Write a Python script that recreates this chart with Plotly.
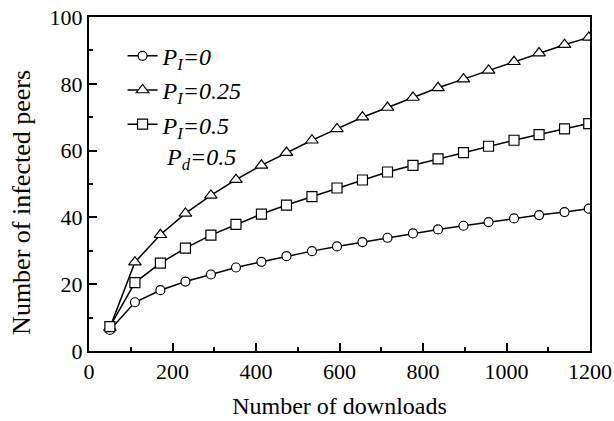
import plotly.graph_objects as go

downloads = [50, 110, 171, 231, 292, 352, 413, 473, 534, 594, 655, 715, 776, 836, 897, 957, 1018, 1078, 1139, 1197]
p0 = [6.3, 14.6, 18.2, 20.8, 22.9, 25.0, 26.7, 28.4, 29.9, 31.3, 32.6, 33.9, 35.2, 36.4, 37.5, 38.6, 39.7, 40.7, 41.6, 42.6]
p025 = [7.0, 26.6, 34.8, 41.2, 46.6, 51.3, 55.6, 59.4, 63.1, 66.5, 70.0, 72.9, 75.9, 78.8, 81.4, 84.0, 86.6, 89.2, 91.7, 93.9]
p05 = [7.3, 20.5, 26.3, 30.8, 34.7, 37.9, 41.0, 43.7, 46.2, 48.8, 51.2, 53.6, 55.6, 57.5, 59.4, 61.3, 63.1, 64.8, 66.5, 68.1]

series_names = ["<i>P<sub>I</sub>=0</i>", "<i>P<sub>I</sub>=0.25</i>", "<i>P<sub>I</sub>=0.5</i>"]
series_values = [p0, p025, p05]
symbols = ["circle", "triangle-up", "square"]
sizes = [9, 11, 10]

fig = go.Figure()
for name, vals, sym, sz in zip(series_names, series_values, symbols, sizes):
    fig.add_trace(go.Scatter(
        x=downloads, y=vals, name=name, mode="lines+markers",
        line=dict(color="black", width=1.5),
        marker=dict(symbol=sym, size=sz, color="white",
                    line=dict(color="black", width=1.2)),
        legendgroup=name,
    ))

serif = "Liberation Serif, Times New Roman, serif"
fig.update_layout(
    width=614, height=421,
    margin=dict(l=89, r=24, t=17, b=70),
    paper_bgcolor="white", plot_bgcolor="white",
    font=dict(family=serif, color="black", size=21),
    showlegend=True,
    legend=dict(x=0.067, y=0.95, xanchor="left", yanchor="top",
                bgcolor="rgba(0,0,0,0)", font=dict(size=24, family=serif),
                tracegroupgap=0, itemwidth=30),
    xaxis=dict(range=[0, 1200], tickvals=[0, 200, 400, 600, 800, 1000, 1200],
               ticks="inside", ticklen=8, tickwidth=1.5, tickcolor="black",
               minor=dict(dtick=100, ticks="inside", ticklen=4, tickwidth=1.5, tickcolor="black"),
               showline=True, linecolor="black", linewidth=2, mirror=True,
               showgrid=False, zeroline=False, automargin=False, ticklabeloverflow="allow",
               title=dict(text="Number of downloads", font=dict(size=24), standoff=14),
               tickfont=dict(size=22)),
    yaxis=dict(range=[0, 100], tickvals=[0, 20, 40, 60, 80, 100],
               ticks="inside", ticklen=8, tickwidth=1.5, tickcolor="black",
               minor=dict(dtick=10, ticks="inside", ticklen=4, tickwidth=1.5, tickcolor="black"),
               showline=True, linecolor="black", linewidth=2, mirror=True,
               showgrid=False, zeroline=False, automargin=False, ticklabeloverflow="allow",
               tickfont=dict(size=22)),
)
fig.add_annotation(text="Number of infected peers", xref="paper", yref="paper",
                   x=-0.136, y=0.446, xanchor="center", yanchor="middle", textangle=-90,
                   showarrow=False, font=dict(size=26, family=serif))
fig.add_annotation(text="<i>P<sub>d</sub>=0.5</i>", xref="paper", yref="paper",
                   x=0.15, y=0.575, xanchor="left", yanchor="middle", showarrow=False,
                   font=dict(size=24, family=serif))
fig.write_html("out.html", config={"displayModeBar": False},
               post_script="document.body.style.margin='0';document.body.style.overflow='hidden';")
